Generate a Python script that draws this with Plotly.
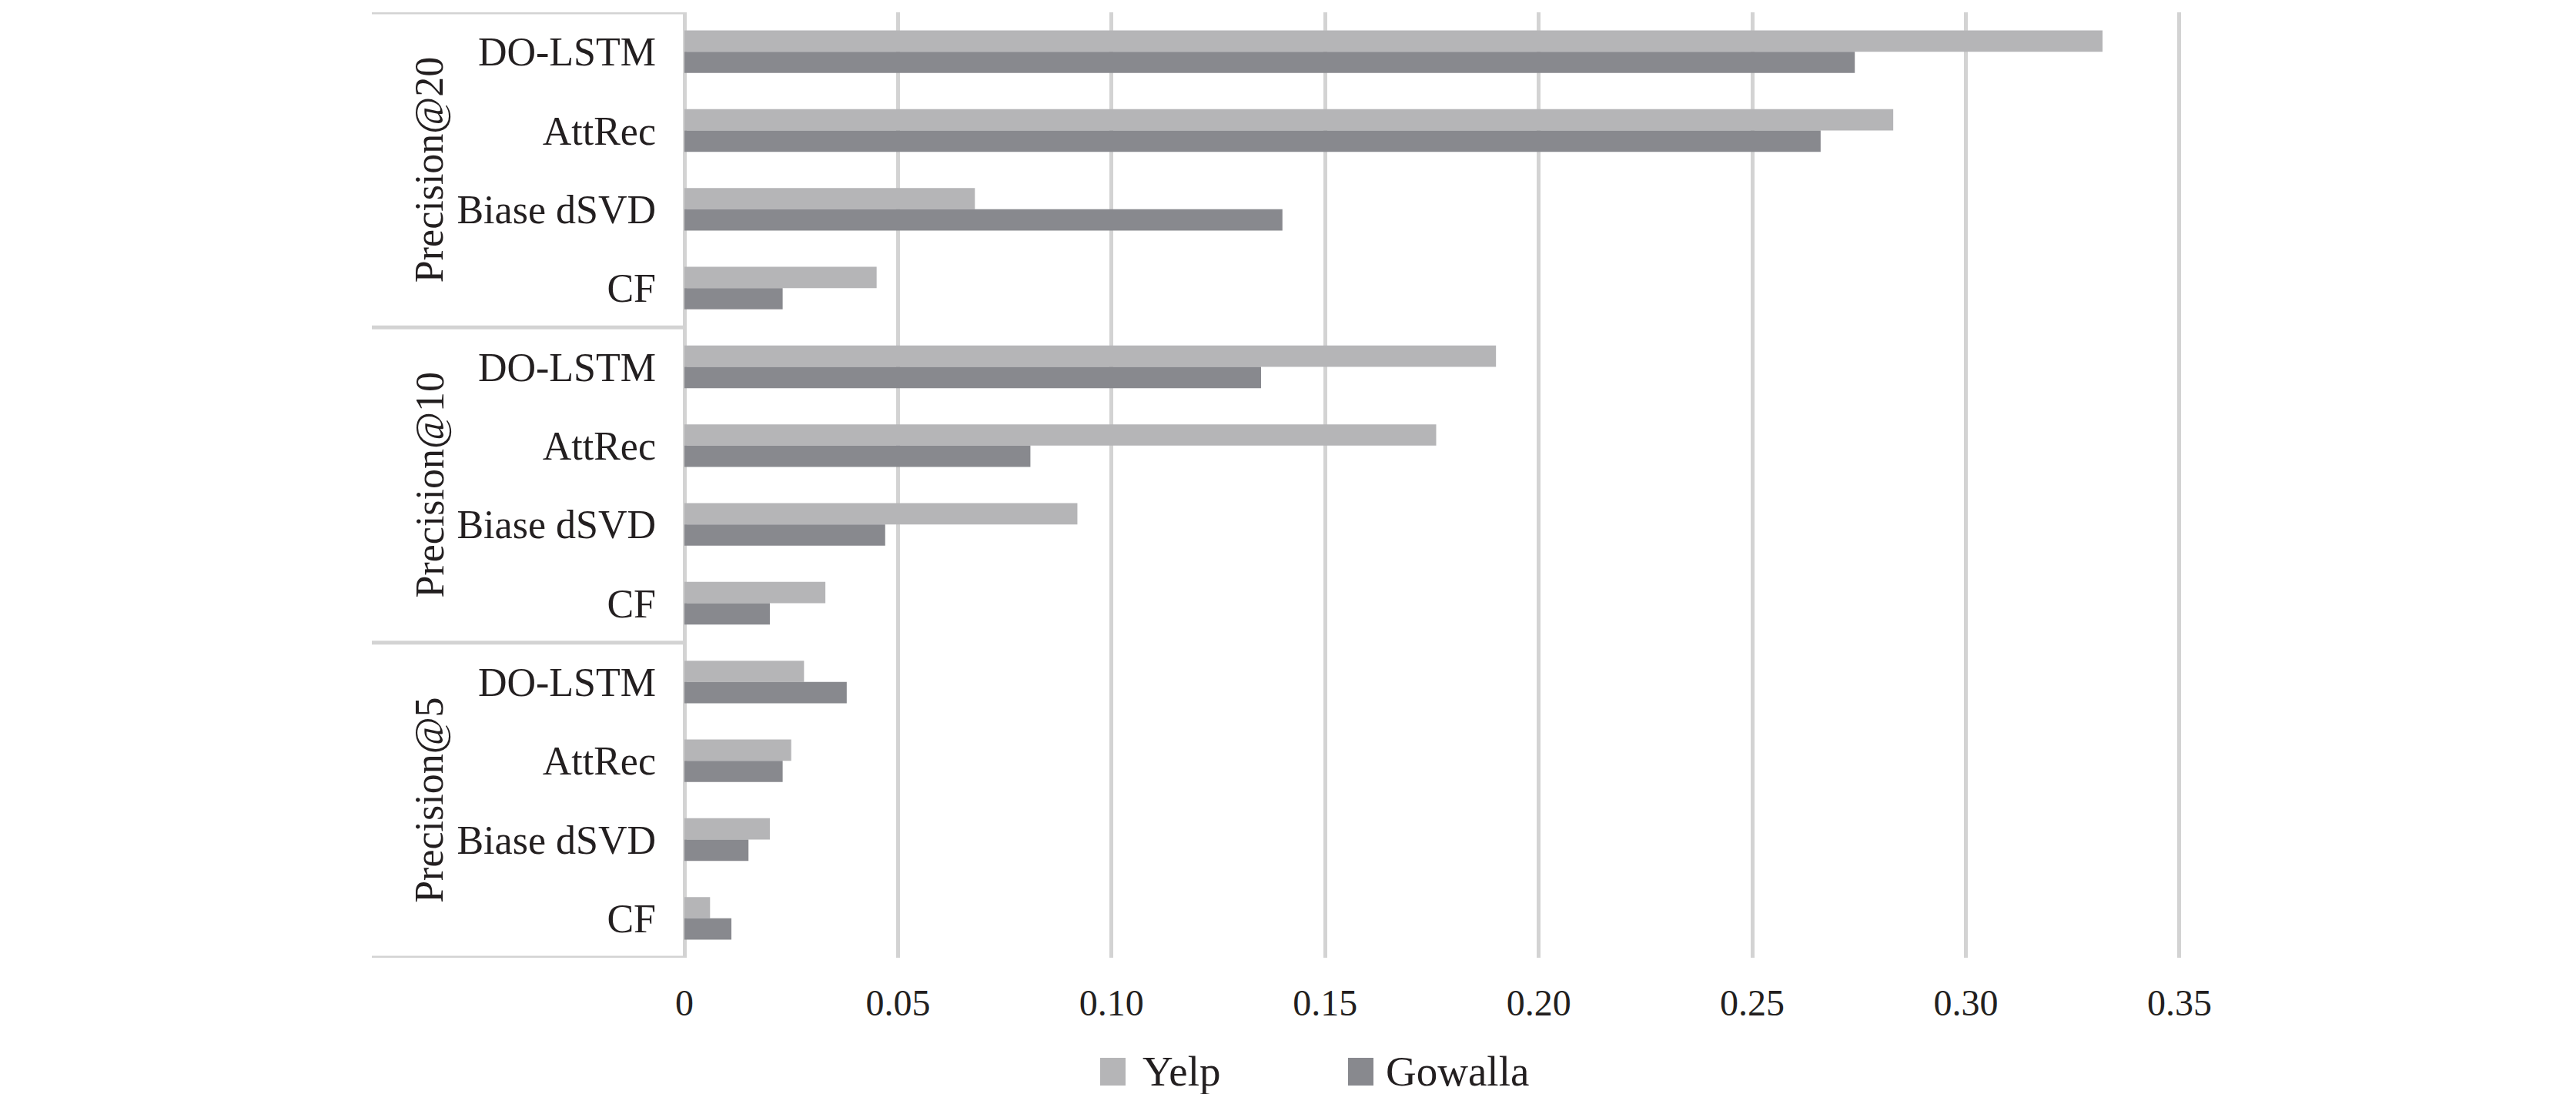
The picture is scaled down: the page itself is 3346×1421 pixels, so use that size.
import plotly.graph_objects as go

# data
groups = ["Precision@20", "Precision@10", "Precision@5"]
methods = ["DO-LSTM", "AttRec", "Biase dSVD", "CF"]

yelp_p20 = [0.332, 0.283, 0.068, 0.045]
gowalla_p20 = [0.274, 0.266, 0.140, 0.023]
yelp_p10 = [0.190, 0.176, 0.092, 0.033]
gowalla_p10 = [0.135, 0.081, 0.047, 0.020]
yelp_p5 = [0.028, 0.025, 0.020, 0.006]
gowalla_p5 = [0.038, 0.023, 0.015, 0.011]

x_ticks = [0, 0.05, 0.10, 0.15, 0.20, 0.25, 0.30, 0.35]
x_tick_text = ["0", "0.05", "0.10", "0.15", "0.20", "0.25", "0.30", "0.35"]

YELP_COLOR = "#b5b5b7"
GOWALLA_COLOR = "#88898e"
GRID_COLOR = "#d3d3d3"
TEXT_COLOR = "#231f20"
FONT = "Liberation Serif, Times New Roman, serif"

W, H = 3346, 1421

yelp = yelp_p20 + yelp_p10 + yelp_p5
gowalla = gowalla_p20 + gowalla_p10 + gowalla_p5
labels = methods * len(groups)
pos = list(range(len(labels)))

fig = go.Figure()
fig.add_trace(go.Bar(y=pos, x=yelp, orientation="h", name="Yelp",
                     marker=dict(color=YELP_COLOR, line_width=0)))
fig.add_trace(go.Bar(y=pos, x=gowalla, orientation="h", name="Gowalla",
                     marker=dict(color=GOWALLA_COLOR, line_width=0)))

x_dom = [881 / W, 2824 / W]
y_dom = [1 - 1236 / H, 1 - 8 / H]
box_left = 475 / W

fig.update_layout(
    width=W, height=H,
    margin=dict(l=0, r=0, t=0, b=0),
    paper_bgcolor="white", plot_bgcolor="white",
    barmode="group", bargap=0.46, bargroupgap=0,
    showlegend=False,
    font=dict(family=FONT, color=TEXT_COLOR, size=52),
    xaxis=dict(domain=x_dom, range=[0, 0.3502], tickvals=x_ticks,
               ticktext=x_tick_text, showgrid=True, gridcolor=GRID_COLOR,
               gridwidth=5, zeroline=True, zerolinecolor=GRID_COLOR,
               zerolinewidth=5, showline=False, ticks="",
               ticklabelstandoff=26, tickfont=dict(size=48),
               automargin=False, fixedrange=True),
    yaxis=dict(domain=y_dom, range=[len(labels) - 0.5, -0.5],
               tickvals=pos, ticktext=labels, showgrid=False, zeroline=False,
               ticks="", ticklabelstandoff=36, tickfont=dict(size=52),
               automargin=False, fixedrange=True),
)

# group dividers on the left
for k in range(len(groups) + 1):
    yv = k * len(methods) - 0.5
    fig.add_shape(type="line", xref="paper", yref="y", x0=box_left,
                  x1=x_dom[0], y0=yv, y1=yv,
                  line=dict(color=GRID_COLOR, width=5))

# rotated group labels
for k, g in enumerate(groups):
    fig.add_annotation(text=g, xref="paper", yref="y", x=519 / W,
                       y=k * len(methods) + (len(methods) - 1) / 2,
                       textangle=-90, showarrow=False,
                       font=dict(size=52, family=FONT, color=TEXT_COLOR))

# legend drawn by hand so the swatches match the size of the reference
legend_items = [("Yelp", YELP_COLOR, 1421, 1454, 1474),
                ("Gowalla", GOWALLA_COLOR, 1743, 1776, 1790)]
for name, col, sx0, sx1, tx in legend_items:
    fig.add_shape(type="rect", xref="paper", yref="paper",
                  x0=sx0 / W, x1=sx1 / W, y0=1 - 1402 / H, y1=1 - 1366 / H,
                  fillcolor=col, line_width=0)
    fig.add_annotation(text=name, xref="paper", yref="paper", x=tx / W,
                       y=1 - 1383 / H, xanchor="left", yanchor="middle",
                       showarrow=False,
                       font=dict(size=55, family=FONT, color=TEXT_COLOR))

fig.write_html("out.html")
